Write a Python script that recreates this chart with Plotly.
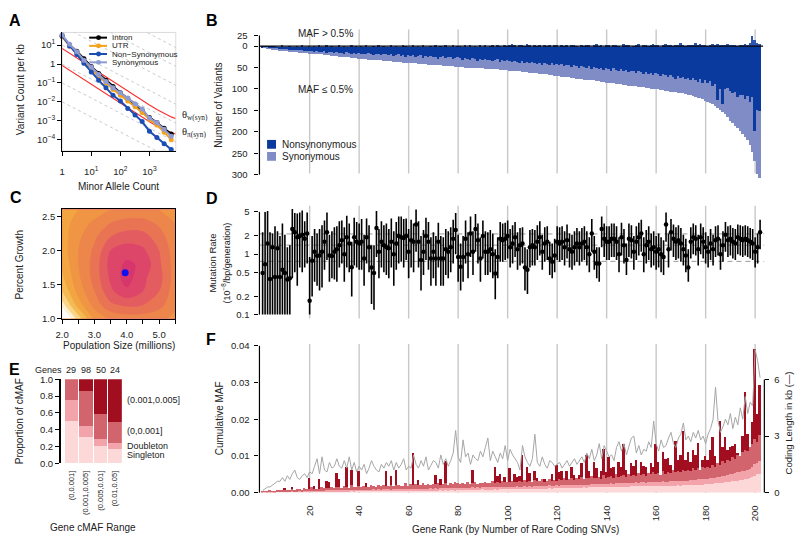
import plotly.graph_objects as go
import math

W, H = 800, 542
def PX(p): return p / W
def PY(p): return 1 - p / H

# ---------------- Panel A: site frequency spectra ----------------
mac = [1, 1.8, 3.2, 5.6, 10, 18, 32, 56, 100, 180, 320, 560, 1000, 1800, 3200, 5600]
sfs_intron = [30, 10, 4.8, 1.9, 0.75, 0.32, 0.14, 0.065, 0.03, 0.015, 0.007, 0.0035, 0.0015, 0.0008, 0.0004, 0.0002]
sfs_utr = [28, 9, 3.8, 1.4, 0.55, 0.22, 0.1, 0.045, 0.022, 0.011, 0.0055, 0.0027, 0.0012, 0.0006, 0.00025, 0.0001]
sfs_nonsyn = [30, 9, 3.2, 1.1, 0.38, 0.14, 0.055, 0.022, 0.011, 0.0045, 0.002, 0.0009, 0.00028, 0.00013, 0.00006, 0.00003]
sfs_syn = [35, 11, 4.5, 1.6, 0.7, 0.28, 0.12, 0.055, 0.03, 0.016, 0.008, 0.0042, 0.0014, 0.0008, 0.00035, 0.00015]
theta_mac = [1, 1.8, 3.2, 5.6, 10, 18, 32, 56, 100, 180, 320, 560, 1000, 1800, 3200, 5600, 7800]
theta_w = [6.7, 3.7, 2.1, 1.2, 0.66, 0.37, 0.21, 0.118, 0.066, 0.037, 0.021, 0.012, 0.0068, 0.0039, 0.0024, 0.0016, 0.0013]
theta_pi = [0.85, 0.47, 0.27, 0.15, 0.085, 0.047, 0.027, 0.015, 0.0085, 0.0047, 0.0027, 0.0015, 0.00088, 0.00052, 0.00033, 0.00024, 0.0002]
guide_const = [1e-2, 1e-1, 1, 1e1, 1e2, 1e3, 1e4, 1e5]

# ---------------- Panel B: variant counts per gene ----------------
genes = list(range(1, 203))
rare_total = [
    2,3,4,5,6,7,8,9,9,10, 11,11,12,12,13,14,14,15,15,16,
    16,17,17,18,18,19,20,20,21,22, 22,23,23,24,24,25,26,26,27,28,
    28,29,29,30,30,31,31,32,32,33, 33,34,34,35,35,36,36,37,37,38,
    38,39,39,40,40,41,41,42,42,43, 43,44,44,45,45,45,46,46,47,47,
    48,48,49,49,49,50,50,50,51,51, 52,52,52,53,53,53,54,54,55,55,
    56,56,57,57,58,59,59,60,61,61, 62,62,63,64,64,65,66,67,68,69,
    69,70,71,71,72,73,74,75,75,76, 77,77,78,79,79,80,81,82,83,84,
    84,85,86,87,88,88,89,90,91,92, 92,93,94,94,95,96,97,98,99,100,
    100,101,102,103,104,105,106,107,108,108, 109,110,112,114,115,117,119,121,123,126,
    129,132,135,139,143,148,153,158,165,173, 179,185,191,197,204,210,218,230,245,268,297,306]
rare_nonsyn = [
    2,2,3,4,4,5,5,6,6,7, 6,8,7,8,9,8,10,9,11,11,
    10,12,11,13,12,11,14,12,13,15, 13,15,14,16,13,15,17,14,16,15,
    17,16,18,15,17,19,16,18,20,17, 18,20,17,22,19,18,21,19,23,19,
    21,20,24,22,20,26,21,23,22,25, 23,28,24,22,27,25,23,29,26,25,
    27,30,26,28,31,27,29,33,28,30, 29,32,30,34,31,29,35,32,33,32,
    34,36,33,35,38,34,37,36,39,35, 38,41,37,43,39,40,44,38,42,40,
    43,41,46,42,44,48,43,45,50,46, 47,49,46,52,48,50,53,49,55,51,
    52,56,50,54,58,53,57,55,60,56, 58,62,57,60,64,59,63,61,66,62,
    64,68,63,67,72,66,70,75,69,73, 71,76,74,79,73,78,82,76,84,77,
    86,80,93,88,125,100,135,100,97,103, 108,105,118,112,114,122,116,130,117,196,148,150]
common = [
    0,0,1,0,0,1,0,0,2,0, 0,1,0,0,1,0,2,0,0,1,
    0,1,0,2,0,0,3,0,1,0, 0,2,0,1,0,0,3,0,1,0,
    1,0,2,0,0,1,0,3,0,1, 0,0,2,0,1,0,0,2,1,0,
    0,3,0,1,0,2,0,0,1,0, 2,0,1,0,3,0,0,2,0,1,
    1,0,2,0,3,0,1,0,2,0, 4,0,1,2,0,3,1,0,2,1,
    4,6,3,0,2,5,1,7,4,0, 2,1,3,0,2,1,4,0,2,3,
    0,2,1,4,0,5,4,1,0,2, 1,3,4,0,2,6,1,3,0,2,
    3,0,4,5,1,0,7,2,5,0, 1,3,6,0,2,4,1,3,7,5,
    2,0,3,6,2,5,1,4,2,8, 3,1,5,2,4,9,3,6,2,4,
    1,3,7,5,6,5,2,4,6,3, 5,2,1,4,2,6,3,8,25,16, 9,6]

# ---------------- Panel C: likelihood surface ----------------
c_pop = [2.0, 2.5, 3.0, 3.5, 4.0, 4.5, 5.0, 5.5]
c_growth = [1.0, 1.2, 1.4, 1.6, 1.8, 2.0, 2.2, 2.4, 2.6]
c_level = [
    [12, 8.5, 5.8, 4.8, 4.5, 4.5, 4.8, 5.2],
    [9.5, 6.5, 4.6, 3.2, 2.8, 3.0, 3.6, 4.8],
    [8, 5.6, 4, 2.2, 1.2, 2.0, 3, 4.6],
    [7.2, 5.2, 3.6, 1.8, 0.5, 1.8, 2.6, 4.5],
    [6.8, 5, 3.6, 1.6, 0.8, 1.2, 2.8, 4.5],
    [6.5, 5, 3.8, 2, 1.5, 1.8, 3, 4.6],
    [6.5, 5.2, 4.2, 3, 2.5, 2.6, 3.5, 4.8],
    [6.5, 5.5, 4.8, 4, 3.6, 3.6, 4.2, 5],
    [6.5, 6, 5.5, 5, 4.8, 4.8, 5, 5.5]]
c_best_pop = [3.95]
c_best_growth = [1.67]

# ---------------- Panel D: mutation rate per gene ----------------
mu_mid = [
    0.49,0.68,1.5,0.39,1.3,0.42,1.25,0.42,0.55,0.49, 0.38,0.40,2.6,2.3,1.9,2.0,2.1,1.8,2.2,0.17,
    0.78,1.1,0.94,0.95,1.1,1.6,2.3,0.95,0.93,1.1, 1.2,1.4,1.7,1.0,1.9,1.5,0.61,1.9,1.6,1.5,
    1.6,0.85,1.9,1.3,0.6,0.49,2.7,1.1,1.6,1.4, 1.3,1.25,1.6,1.0,1.5,2.0,1.9,1.85,2.0,1.1,
    1.7,1.6,3.1,1.6,0.8,1.1,2.0,1.6,0.85,1.1, 0.85,1.6,0.85,0.85,1.2,1.1,1.3,1.8,2.5,0.9,
    0.62,0.9,1.8,1.0,2.2,1.1,2.6,1.7,0.85,2.0, 1.1,1.1,1.2,1.0,0.48,0.9,1.8,1.7,1.8,2.0,
    1.3,1.5,1.9,1.2,1.4,1.5,0.6,0.55,1.3,1.4, 1.3,1.6,1.9,1.1,1.5,1.6,0.85,0.75,0.95,1.6,
    1.5,1.6,1.3,1.7,1.2,1.1,1.3,1.5,1.3,1.5, 1.6,1.3,1.0,2.2,1.1,0.7,0.7,2.6,1.8,1.6,
    1.6,1.8,1.8,1.6,1.0,1.9,1.4,0.8,1.8,1.7, 1.1,1.6,1.9,2.2,1.0,1.4,1.6,1.2,1.3,1.1,
    1.2,1.0,0.9,3.1,1.2,2.3,1.8,1.6,1.7,1.5, 1.2,0.95,0.6,1.6,1.9,1.8,1.2,1.9,1.6,1.3,
    1.1,1.5,1.2,1.7,1.8,1.0,1.4,2.1,1.7,1.8, 1.6,1.5,1.9,1.8,1.7,1.8,1.7,1.6,1.5,1.1,1.3,2.3]
mu_lo = [
    0.1,0.1,0.1,0.1,0.1,0.1,0.1,0.1,0.1,0.1, 0.1,0.1,0.4,0.5,0.3,0.6,0.5,0.6,0.7,0.1,
    0.2,0.35,0.3,0.25,0.28,0.55,0.8,0.35,0.4,0.38, 0.35,0.6,0.7,0.35,0.6,0.5,0.2,0.65,0.6,0.55,
    0.55,0.3,0.7,0.5,0.15,0.12,0.9,0.4,0.6,0.5, 0.45,0.4,0.6,0.3,0.55,0.7,0.75,0.6,0.8,0.4,
    0.6,0.5,1.1,0.6,0.25,0.45,0.8,0.55,0.3,0.4, 0.3,0.6,0.3,0.3,0.45,0.4,0.5,0.7,1.0,0.35,
    0.25,0.35,0.7,0.4,0.9,0.45,1.1,0.7,0.35,0.85, 0.45,0.45,0.5,0.4,0.18,0.4,0.75,0.75,0.8,0.85,
    0.6,0.7,0.9,0.55,0.65,0.7,0.25,0.22,0.6,0.65, 0.65,0.8,0.95,0.55,0.75,0.8,0.45,0.4,0.5,0.8,
    0.75,0.8,0.65,0.85,0.6,0.55,0.65,0.75,0.65,0.75, 0.8,0.65,0.5,1.1,0.55,0.4,0.35,1.3,0.9,0.8,
    0.8,0.9,0.9,0.8,0.5,0.95,0.7,0.45,0.9,0.85, 0.55,0.8,0.95,1.1,0.5,0.7,0.8,0.6,0.65,0.55,
    0.6,0.5,0.45,1.6,0.6,1.15,0.9,0.8,0.85,0.75, 0.65,0.5,0.35,0.85,1.0,0.95,0.65,1.0,0.85,0.7,
    0.6,0.8,0.65,0.9,0.95,0.55,0.75,1.1,0.9,0.95, 0.85,0.8,1.0,0.95,0.9,0.95,0.9,0.85,0.8,0.6,0.7,1.2]
mu_hi = [
    2.3,5.0,5.2,2.3,2.2,2.9,2.4,2.0,3.2,2.1, 1.3,1.4,5.6,4.8,4.7,4.9,5.3,3.5,4.9,0.9,
    2.0,2.6,2.2,2.6,3.0,3.6,4.9,2.1,2.4,2.8, 2.9,3.5,3.6,2.8,4.3,3.2,1.6,4.0,3.4,3.2,
    3.8,2.1,3.9,3.0,1.4,1.4,5.2,2.6,3.5,3.0, 3.2,2.6,3.9,2.4,3.4,4.2,4.2,3.8,3.9,2.6,
    3.7,3.2,5.5,3.5,2.0,2.5,4.0,3.4,1.9,2.3, 2.0,3.3,2.0,1.9,2.6,2.4,2.8,3.7,4.8,2.1,
    1.5,2.0,3.6,2.3,4.2,2.4,4.6,3.2,1.9,3.6, 2.4,2.3,2.5,2.2,1.2,1.9,3.4,3.2,3.3,3.6,
    2.6,3.0,3.4,2.3,2.7,2.8,1.3,1.2,2.5,2.6, 2.5,3.0,3.5,2.1,2.8,2.9,1.6,1.5,1.8,2.9,
    2.8,2.9,2.4,3.1,2.2,2.1,2.4,2.7,2.4,2.7, 2.9,2.4,1.9,3.8,2.0,1.3,1.3,4.2,3.2,2.9,
    2.9,3.2,3.2,2.9,1.9,3.3,2.6,1.5,3.2,3.0, 2.0,2.9,3.3,3.7,1.9,2.5,2.9,2.2,2.4,2.0,
    2.2,1.9,1.7,4.9,2.2,3.8,3.1,2.8,3.0,2.7, 2.1,1.8,1.2,2.8,3.2,3.0,2.1,3.2,2.8,2.3,
    2.0,2.6,2.1,2.9,3.0,1.8,2.4,3.4,2.9,3.0, 2.7,2.6,3.1,3.0,2.9,3.0,2.9,2.7,2.6,1.9,2.2,3.7]
mu_ref_levels = [2.16, 1.41, 0.76]

# ---------------- Panel E: cMAF composition by gene cMAF range ----------------
e_ranges = ["(0,0.001]", "(0.001,0.005]", "(0.005,0.01]", "(0.01,0.05]"]
e_genes = [29, 98, 50, 24]
e_single = [0.50, 0.31, 0.20, 0.17]
e_double = [0.25, 0.13, 0.08, 0.07]
e_low = [0.25, 0.42, 0.30, 0.25]
e_high = [0.00, 0.14, 0.42, 0.51]

# ---------------- Panel F: cumulative MAF per gene (units of 1e-4) ----------------
f_single = [
    1,1,1,1,1,1,2,2,2,2, 2,2,2,2,2,3,2,3,3,3, 3,3,3,3,3,3,4,3,4,4, 4,4,4,4,4,4,5,4,5,5,
    5,5,5,5,5,5,5,6,5,6, 6,6,5,6,6,6,6,6,7,6, 7,6,7,7,6,7,7,7,7,7, 7,7,8,7,8,7,8,8,7,8,
    8,8,8,8,8,8,8,9,8,9, 9,8,9,9,9,9,9,9,10,9, 10,9,10,10,10,10,10,10,11,10, 11,11,11,11,11,11,12,11,12,12,
    12,12,12,13,12,13,13,13,13,13, 14,13,14,14,14,14,14,15,14,15, 15,15,15,16,15,16,16,16,16,17, 17,17,17,17,18,17,18,18,18,18,
    18,18,19,18,19,19,19,19,20,19, 20,20,20,21,21,21,22,22,22,23, 23,24,24,25,26,26,27,28,29,30, 31,32,33,34,35,36,38,39,42,46,50,52]
f_double = [
    0,1,0,1,1,0,1,1,1,1, 1,1,2,1,1,2,1,2,1,2, 2,2,1,2,2,2,2,3,2,2, 3,2,2,3,2,3,3,2,3,3,
    3,3,2,3,3,4,3,3,3,4, 3,4,3,4,3,4,4,3,4,4, 4,4,3,4,5,4,4,4,5,4, 5,4,4,5,4,5,5,4,5,5,
    5,5,4,5,5,6,5,5,5,6, 5,6,5,5,6,5,6,6,5,6, 6,6,6,7,6,6,7,6,7,6, 7,7,6,7,7,7,8,7,7,8,
    7,8,8,7,8,8,8,9,8,8, 8,9,8,9,9,9,9,8,10,9, 9,10,9,10,10,9,10,10,11,10, 10,11,10,11,11,10,11,12,11,11,
    12,11,12,12,11,12,13,12,12,13, 12,13,13,14,13,14,14,14,15,15, 15,15,16,16,17,17,18,18,19,20, 20,21,22,23,23,24,25,26,28,31,32,34]
f_low = [
    1,2,2,3,2,4,3,5,4,3, 5,4,6,3,7,5,4,8,6,5, 9,6,7,5,10,8,6,7,9,6, 8,10,7,11,8,6,12,9,7,10,
    8,11,9,7,12,10,8,13,9,11, 10,8,12,9,13,11,8,10,14,9, 12,10,13,9,11,14,10,12,9,13, 11,15,10,12,14,9,13,11,16,12,
    10,14,12,15,11,13,16,10,14,12, 15,11,13,17,12,14,10,16,13,15, 12,17,14,11,16,13,18,12,15,14, 17,13,16,19,12,15,18,14,16,13,
    18,15,20,14,17,19,13,18,16,21, 15,19,17,22,16,18,20,15,23,17, 19,21,16,24,18,20,22,17,25,19, 21,18,26,20,23,19,25,21,28,22,
    24,20,27,22,26,23,30,24,28,25, 31,26,29,24,33,27,30,25,34,28, 32,29,36,30,38,33,40,35,42,37, 45,39,48,42,52,55,50,58,62,68,55,72]
f_high = [
    0,0,0,0,0,0,0,0,0,7, 0,0,4,0,0,0,0,0,0,30, 0,8,0,26,0,0,19,15,0,0, 38,20,0,0,55,0,42,0,0,40,
    0,0,10,0,0,0,0,0,0,0, 39,0,25,0,40,0,0,0,0,0, 0,89,0,14,0,0,0,0,0,0, 26,0,15,0,61,0,0,0,0,0,
    0,0,0,0,0,35,0,0,0,0, 0,0,0,0,44,18,27,0,15,0, 38,0,22,15,13,73,0,41,20,0, 23,10,0,0,8,0,0,20,0,42,
    20,25,0,24,0,31,15,0,12,38, 0,61,20,0,45,25,0,22,73,15, 55,20,30,0,41,25,85,18,0,34, 25,43,0,35,20,25,0,30,12,82,
    30,0,53,40,37,20,0,87,30,45, 104,30,49,25,49,40,69,0,18,35, 20,48,75,30,0,120,40,70,25,37, 30,40,4,0,45,160,47,0,60,246,76,136]
coding_kb = [
    0.1,0.2,0.3,0.3,0.4,0.5,0.6,0.6,0.8,0.6, 0.9,0.7,1.0,1.2,0.8,0.7,0.9,1.0,0.8,1.1,
    1.0,1.4,1.8,1.0,1.9,1.2,1.1,1.6,1.3,1.4, 1.8,1.4,1.3,1.7,1.3,1.9,1.2,1.6,1.1,1.4,
    1.2,1.5,1.0,1.3,1.7,1.4,1.2,1.1,1.5,1.3, 1.6,1.4,1.7,1.2,1.6,1.3,1.5,1.8,1.2,1.4,
    1.3,2.0,1.5,1.3,1.7,1.4,1.9,1.2,1.5,1.7, 1.6,1.3,2.0,1.5,1.8,1.4,1.7,2.1,3.3,1.9,
    1.6,2.8,1.9,2.1,1.5,2.0,1.8,1.7,2.2,1.9, 2.4,2.9,1.7,2.2,1.9,1.6,2.1,1.8,2.5,1.7,
    2.3,2.0,1.8,1.6,1.2,2.5,1.9,1.6,1.4,1.8, 3.1,1.6,1.4,1.9,1.5,1.3,1.7,1.6,1.4,1.5,
    1.6,1.3,1.5,1.7,1.4,1.6,1.8,1.5,1.7,1.9, 1.6,2.1,1.8,2.3,1.7,2.0,2.6,1.8,2.5,2.2,
    1.9,2.0,1.7,2.4,2.7,2.2,2.6,2.0,2.4,2.9, 3.0,2.1,2.5,2.0,2.3,2.2,2.7,2.4,3.8,2.6,
    2.2,2.8,2.4,2.5,2.9,3.2,2.6,2.4,2.9,3.1, 3.7,2.8,3.0,2.7,3.2,2.9,3.3,2.8,3.0,2.6,
    3.1,3.4,3.9,5.6,3.8,3.2,3.5,3.9,3.6,4.2, 3.4,4.0,3.6,4.5,3.9,5.1,4.2,4.8,4.6,7.6,7.0,6.1]
rank_ticks = [20, 40, 60, 80, 100, 120, 140, 160, 180, 200]

for arr in (rare_total, rare_nonsyn, common, mu_mid, mu_lo, mu_hi, f_single, f_double, f_low, f_high, coding_kb):
    assert len(arr) == 202, len(arr)

# ---------------- styling ----------------
FONT = "Liberation Sans, Arial, sans-serif"
TXT = "#222222"
NS_BLUE = "#0B3A9F"
SYN_BLUE = "#7F8CC6"
C_SINGLE, C_DOUBLE, C_LOW, C_HIGH = "#FCD8D8", "#F2A4AA", "#D2646D", "#A10E1F"
GRID = "#C8C8C8"

fig = go.Figure()

# ---- A ----
for c in guide_const:
    fig.add_trace(go.Scatter(x=[1, 9000], y=[c, c * 9000 ** -0.8], mode="lines",
                             line=dict(color="#C4C4C4", width=0.9, dash="3px,3px"),
                             xaxis="x", yaxis="y", showlegend=False, hoverinfo="skip"))
for ys in (theta_w, theta_pi):
    fig.add_trace(go.Scatter(x=theta_mac, y=ys, mode="lines", line=dict(color="#FF2A2A", width=1.1),
                             xaxis="x", yaxis="y", showlegend=False))
a_series = [("Intron", sfs_intron, "#000000"), ("UTR", sfs_utr, "#F4A21C"),
            ("Non−Synonymous", sfs_nonsyn, "#1C4DB4"), ("Synonymous", sfs_syn, "#8E9BD2")]
for name, ys, col in a_series:
    fig.add_trace(go.Scatter(x=mac, y=ys, mode="lines+markers", name=name,
                             line=dict(color=col, width=2), marker=dict(color=col, size=5),
                             xaxis="x", yaxis="y", showlegend=False, cliponaxis=False))

# ---- B ----
syn_rare = [t - n for t, n in zip(rare_total, rare_nonsyn)]
fig.add_trace(go.Bar(x=genes, y=[-v for v in rare_nonsyn], width=1, marker=dict(color=NS_BLUE, line=dict(width=0)),
                     xaxis="x2", yaxis="y2", showlegend=False))
fig.add_trace(go.Bar(x=genes, y=[-v for v in syn_rare], width=1, marker=dict(color=SYN_BLUE, line=dict(width=0)),
                     xaxis="x2", yaxis="y2", showlegend=False))
fig.add_trace(go.Bar(x=genes, y=common, width=1, marker=dict(color="#2F56B0", line=dict(width=0)),
                     xaxis="x2", yaxis="y2", showlegend=False))

# ---- C ----
fig.add_trace(go.Contour(x=c_pop, y=c_growth, z=c_level, xaxis="x3", yaxis="y3", showscale=False,
                         zmin=0, zmax=10, autocontour=False,
                         contours=dict(start=0, end=10, size=1, coloring="fill"),
                         line=dict(width=0),
                         colorscale=[[0, "#D42F6E"], [0.1, "#D93C6B"], [0.2, "#E05066"], [0.3, "#E66A5A"],
                                     [0.4, "#EB7E4D"], [0.5, "#EE8E46"], [0.6, "#F09C41"], [0.7, "#F3AE40"],
                                     [0.8, "#F6C766"], [0.9, "#FBE3A8"], [1.0, "#FFFFFF"]]))
fig.add_trace(go.Scatter(x=c_best_pop, y=c_best_growth, mode="markers", marker=dict(color="#1010F0", size=7),
                         xaxis="x3", yaxis="y3", showlegend=False))

# ---- D ----
for lev in mu_ref_levels:
    fig.add_trace(go.Scatter(x=[-0.28, 203.72], y=[lev, lev], mode="lines",
                             line=dict(color="#9A9A9A", width=1, dash="5px,4px"),
                             xaxis="x4", yaxis="y4", showlegend=False, hoverinfo="skip"))
fig.add_trace(go.Scatter(x=genes, y=mu_mid, mode="markers", marker=dict(color="black", size=4.5),
                         error_y=dict(type="data", symmetric=False,
                                      array=[h - m for h, m in zip(mu_hi, mu_mid)],
                                      arrayminus=[m - l for m, l in zip(mu_mid, mu_lo)],
                                      color="black", thickness=1.6, width=0),
                         xaxis="x4", yaxis="y4", showlegend=False))

# ---- E ----
e_x = [1, 2, 3, 4]
for vals, col in ((e_single, C_SINGLE), (e_double, C_DOUBLE), (e_low, C_LOW), (e_high, C_HIGH)):
    fig.add_trace(go.Bar(x=e_x, y=vals, width=0.92, marker=dict(color=col, line=dict(width=0)),
                         xaxis="x5", yaxis="y5", showlegend=False))

# ---- F ----
for vals, col in ((f_single, C_SINGLE), (f_double, C_DOUBLE), (f_low, C_LOW), (f_high, C_HIGH)):
    fig.add_trace(go.Bar(x=genes, y=[v * 1e-4 for v in vals], width=1, marker=dict(color=col, line=dict(width=0)),
                         xaxis="x6", yaxis="y6", showlegend=False))
fig.add_trace(go.Scatter(x=genes, y=coding_kb, mode="lines", line=dict(color="#A6A6A6", width=1),
                         xaxis="x6", yaxis="y7", showlegend=False))

# ---------------- axes ----------------
tick_font = dict(family=FONT, size=9.5, color=TXT)
base = dict(showgrid=False, zeroline=False, ticks="outside", ticklen=4, tickwidth=1, tickcolor="black",
            tickfont=tick_font, showline=False)

def dom_x(a, b): return [PX(a), PX(b)]
def dom_y(top, bottom): return [PY(bottom), PY(top)]

GX = (255, 765)
GR = [-0.28, 203.72]
B_DOM, B_RNG = (24, 178), [-313.5, 38.9]
D_DOM, D_RNG = (204, 320), [-1.081, 0.799]
F_DOM, F_RNG, F2_RNG = (345, 496.7), [0, 0.0405], [0, 7.89]

def lin_px(v, dom, rng):
    return dom[0] + (rng[1] - v) / (rng[1] - rng[0]) * (dom[1] - dom[0])

lay = dict(
    xaxis=dict(base, type="log", range=[0, 3.905], domain=dom_x(55.7, 170.5), anchor="y",
               tickvals=[1, 10, 100, 1000], ticktext=["1", "10<sup>1</sup>", "10<sup>2</sup>", "10<sup>3</sup>"],
               showline=True, linecolor="black", linewidth=1, ticklabelstandoff=8),
    yaxis=dict(base, type="log", range=[-4.6, 1.67], domain=dom_y(27, 148), anchor="x",
               tickvals=[10, 1, 0.1, 0.01, 0.001, 0.0001],
               ticktext=["10<sup>1</sup>", "1", "10<sup>−1</sup>", "10<sup>−2</sup>", "10<sup>−3</sup>", "10<sup>−4</sup>"],
               showline=True, linecolor="black", linewidth=1),
    xaxis2=dict(base, range=GR, domain=dom_x(*GX), anchor="y2", showticklabels=False, ticks=""),
    yaxis2=dict(base, range=B_RNG, domain=dom_y(*B_DOM), anchor="x2",
                tickvals=[25, 0, -50, -100, -150, -200, -250, -300],
                ticktext=["25", "0", "50", "100", "150", "200", "250", "300"], ticklabelstandoff=5),
    xaxis3=dict(base, range=[2.0, 5.5], domain=dom_x(55.7, 170), anchor="y3",
                tickvals=[2.0, 2.5, 3.0, 3.5, 4.0, 4.5, 5.0, 5.5],
                ticktext=["2.0", " ", "3.0", " ", "4.0", " ", "5.0", " "],
                showline=True, mirror=True, linecolor="black", linewidth=1, ticklabelstandoff=3),
    yaxis3=dict(base, range=[1.0, 2.6], domain=dom_y(207.7, 319), anchor="x3",
                tickvals=[1.0, 1.5, 2.0, 2.5], ticktext=["1.0", "1.5", "2.0", "2.5"],
                showline=True, mirror=True, linecolor="black", linewidth=1),
    xaxis4=dict(base, range=GR, domain=dom_x(*GX), anchor="y4", showticklabels=False, ticks=""),
    yaxis4=dict(base, type="log", range=D_RNG, domain=dom_y(*D_DOM), anchor="x4",
                tickvals=[0.1, 0.2, 0.5, 1, 2, 5], ticktext=["0.1", "0.2", "0.5", "1", "2", "5"],
                ticklabelstandoff=3),
    xaxis5=dict(base, range=[0.267, 4.5], domain=dom_x(54.3, 116), anchor="y5",
                tickvals=e_x, ticktext=e_ranges, tickangle=-90, ticks="",
                tickfont=dict(family=FONT, size=7.5, color=TXT), ticklabelstandoff=5),
    yaxis5=dict(base, range=[0, 1], domain=dom_y(381, 466.7), anchor="x5",
                tickvals=[0, 0.2, 0.4, 0.6, 0.8, 1.0], ticktext=["0.0", "0.2", "0.4", "0.6", "0.8", "1.0"],
                showline=True, linecolor="black", linewidth=1.5),
    xaxis6=dict(base, range=GR, domain=dom_x(*GX), anchor="y6", tickvals=rank_ticks,
                ticktext=[str(t) for t in rank_ticks], tickangle=-90, ticks="", ticklabelstandoff=10),
    yaxis6=dict(base, range=F_RNG, domain=dom_y(*F_DOM), anchor="x6",
                tickvals=[0, 0.01, 0.02, 0.03, 0.04], ticktext=["0.00", "0.01", "0.02", "0.03", "0.04"],
                ticklabelstandoff=3),
    yaxis7=dict(base, range=F2_RNG, overlaying="y6", side="right", anchor="x6",
                tickvals=[0, 3, 6], ticktext=["0", "3", "6"], ticklabelstandoff=3),
)

# ---------------- shapes ----------------
shapes = []
def vline_paper(xp, y0p, y1p, color="black", width=1.2):
    shapes.append(dict(type="line", xref="paper", yref="paper", x0=PX(xp), x1=PX(xp),
                       y0=PY(y0p), y1=PY(y1p), line=dict(color=color, width=width)))

for t in rank_ticks:
    for top, bot in ((24, 171), (204, 319), (345, 497)):
        shapes.append(dict(type="line", xref="x2", yref="paper", x0=t, x1=t, y0=PY(bot), y1=PY(top),
                           line=dict(color=GRID, width=1.4), layer="below"))
shapes.append(dict(type="rect", xref="paper", yref="paper", x0=PX(55.7), x1=PX(170.5), y0=PY(148), y1=PY(27),
                   line=dict(color="#D0D0D0", width=0.8), layer="below"))
vline_paper(255, lin_px(25, B_DOM, B_RNG), lin_px(-300, B_DOM, B_RNG))
shapes.append(dict(type="line", xref="x2", yref="y2", x0=-0.28, x1=203.2, y0=0, y1=0,
                   line=dict(color="black", width=1.3)))
def log_px(v, dom, rng):
    return dom[0] + (rng[1] - math.log10(v)) / (rng[1] - rng[0]) * (dom[1] - dom[0])
vline_paper(255, log_px(5, D_DOM, D_RNG), log_px(0.1, D_DOM, D_RNG))
vline_paper(255, lin_px(0.04, F_DOM, F_RNG), lin_px(0, F_DOM, F_RNG))
vline_paper(765, lin_px(6, F_DOM, F2_RNG), lin_px(0, F_DOM, F2_RNG))

leg_y = [32.3, 40.7, 49.0, 57.5]
for (name, ys, col), yy in zip(a_series, leg_y):
    shapes.append(dict(type="line", xref="paper", yref="paper", x0=PX(83), x1=PX(101), y0=PY(yy), y1=PY(yy),
                       line=dict(color=col, width=2)))
    shapes.append(dict(type="circle", xref="paper", yref="paper", x0=PX(90), x1=PX(95), y0=PY(yy + 2.5),
                       y1=PY(yy - 2.5), fillcolor=col, line=dict(color=col, width=0)))
for yy, col in ((141.2, NS_BLUE), (153.5, SYN_BLUE)):
    shapes.append(dict(type="rect", xref="paper", yref="paper", x0=PX(262.7), x1=PX(271.7),
                       y0=PY(yy + 4.5), y1=PY(yy - 4.5), fillcolor=col, line=dict(width=0)))

# ---------------- annotations ----------------
anns = []
def ann(text, x, y, size=10, angle=0, xanchor="center", yanchor="middle", bold=False, family=FONT, color=TXT):
    if bold:
        text = "<b>" + text + "</b>"
    anns.append(dict(text=text, x=PX(x), y=PY(y), xref="paper", yref="paper", showarrow=False,
                     textangle=angle, xanchor=xanchor, yanchor=yanchor,
                     font=dict(family=family, size=size, color=color)))

for letter, x, y in (("A", 8, 15), ("B", 207, 15), ("C", 9, 195), ("D", 207, 196), ("E", 8, 371), ("F", 206, 340)):
    ann(letter, x, y, size=16, bold=True, color="black")

ann("Variant Count per kb", 13, 85, angle=-90)
ann("Minor Allele Count", 113, 184)
for (name, ys, col), yy in zip(a_series, leg_y):
    ann(name, 104, yy, size=8, xanchor="left")
ann("θ<sub>w(syn)</sub>", 175, 112, size=10.5, xanchor="left", family="Liberation Serif, serif")
ann("θ<sub>π(syn)</sub>", 175, 129, size=10.5, xanchor="left", family="Liberation Serif, serif")

ann("Number of Variants", 214, 101, angle=-90)
ann("MAF &gt; 0.5%", 292, 28, xanchor="left")
ann("MAF ≤ 0.5%", 292, 85, xanchor="left")
ann("Nonsynonymous", 276, 141.5, xanchor="left")
ann("Synonymous", 276, 154, xanchor="left")

ann("Percent Growth", 13, 264, angle=-90)
ann("Population Size (millions)", 113, 347)

ann("Mutation Rate", 208, 262, angle=-90, size=9.5)
ann("(10<sup>−8</sup>/bp/generation)", 221, 262, angle=-90, size=9)

ann("Proportion of cMAF", 13, 424, angle=-90)
ann("Gene cMAF Range", 87, 532)
ann("Genes", 42, 372, size=9)
for xc, n in zip([65, 80, 94.5, 108.6], e_genes):
    ann(str(n), xc, 372, size=9)
ann("(0.001,0.005]", 119, 401.7, size=9, xanchor="left")
ann("(0,0.001]", 119, 433.3, size=9, xanchor="left")
ann("Doubleton", 119, 449.0, size=9, xanchor="left")
ann("Singleton", 119, 458.2, size=9, xanchor="left")

ann("Cumulative MAF", 215, 421, angle=-90)
ann("Coding Length in kb (—)", 789, 426, angle=-90, size=9.5)
ann("Gene Rank (by Number of Rare Coding SNVs)", 514, 534)

fig.update_layout(
    width=W, height=H, autosize=False, margin=dict(l=0, r=0, t=0, b=0),
    paper_bgcolor="white", plot_bgcolor="rgba(0,0,0,0)",
    barmode="relative", bargap=0, showlegend=False,
    font=dict(family=FONT, size=10, color=TXT),
    shapes=shapes, annotations=anns, **lay)

fig.write_html("out.html", config={"displayModeBar": False},
               post_script="document.body.style.margin='0';document.body.style.padding='0';"
                           "document.body.style.overflow='hidden';")
